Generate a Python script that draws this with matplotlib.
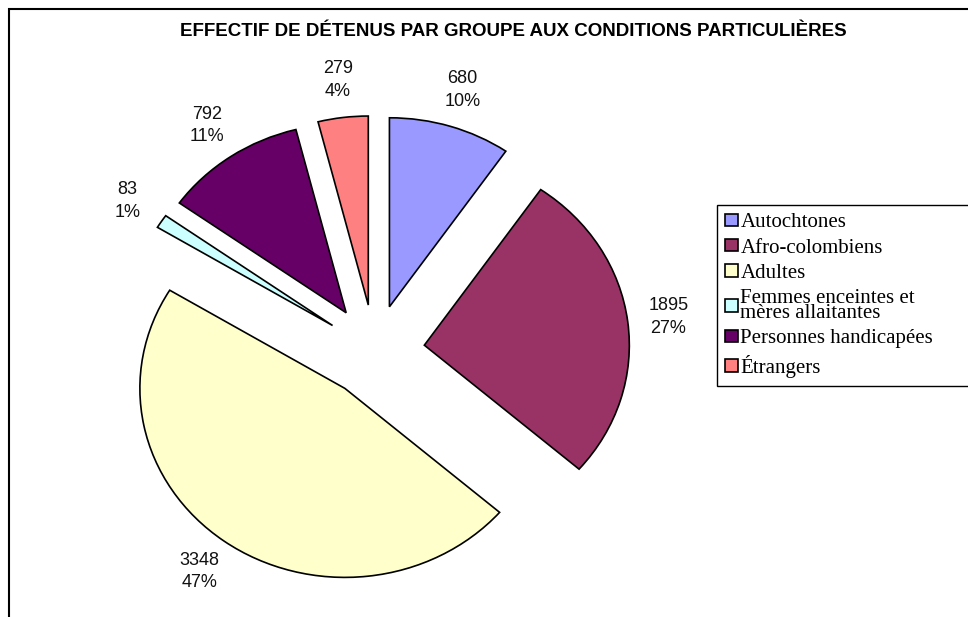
import matplotlib
matplotlib.use("Agg")
import matplotlib.pyplot as plt
from matplotlib.patches import Rectangle

# ---- data ----
categories = ["Autochtones", "Afro-colombiens", "Adultes",
              "Femmes enceintes et\nmères allaitantes",
              "Personnes handicapées", "Étrangers"]
values = [680, 1895, 3348, 83, 792, 279]
colors = ["#9999FF", "#993366", "#FFFFCC", "#CCFFFF", "#660066", "#FF8080"]
title = "EFFECTIF DE DÉTENUS PAR GROUPE AUX CONDITIONS PARTICULIÈRES"

W, H = 968, 617
fig = plt.figure(figsize=(W / 100, H / 100), dpi=100)
fig.patch.set_facecolor("white")

# pie geometry (pixels): centre, horizontal and vertical radius
cx, cy, rx, ry = 374.5, 351, 205, 189
ax = fig.add_axes([0, 0, 1, 1])
ax.axis("off")

total = sum(values)


def fmt(pct):
    v = int(round(pct * total / 100.0))
    return f"{v}\n{pct:.0f}%"


wedges, texts, autotexts = ax.pie(
    values, colors=colors, startangle=90, counterclock=False,
    explode=[0.245] * len(values), radius=1.0, center=(0, 0),
    autopct=fmt, pctdistance=1.2,
    wedgeprops=dict(edgecolor="black", linewidth=1.2),
    textprops=dict(family="Liberation Sans", fontsize=13, color="#111111"),
    frame=False)
ax.set_aspect("auto")
ax.set_xlim(-cx / rx, (W - cx) / rx)
ax.set_ylim(-(H - cy) / ry, cy / ry)
for t in autotexts:
    t.set_linespacing(1.45)
    t.set_ha("center")
    t.set_va("center")

fig.text(513 / W, 1 - 32 / H, title, ha="center", va="center",
         family="Liberation Sans", fontweight="bold", fontsize=13.5)

leg = fig.legend(wedges, categories, loc="upper left",
                 bbox_to_anchor=(717 / W, 1 - 205 / H, (990 - 717) / W, 0),
                 mode="expand", borderaxespad=0,
                 prop=dict(family="Liberation Serif", size=15),
                 handlelength=0.6, handleheight=0.55, handletextpad=0.12,
                 borderpad=0.4, labelspacing=0.3, fancybox=False,
                 frameon=True, framealpha=1)
leg.get_frame().set_edgecolor("black")
leg.get_frame().set_linewidth(1.0)
for t in leg.get_texts():
    t.set_linespacing(0.72)

# outer chart-area frame (extends past right and bottom edges)
fig.patches.append(Rectangle((8.5 / W, -0.2), 1.5, 1.2 - 8.5 / H,
                             transform=fig.transFigure, fill=False,
                             edgecolor="black", linewidth=1.5,
                             clip_on=False))

fig.savefig("out.png", dpi=100)
